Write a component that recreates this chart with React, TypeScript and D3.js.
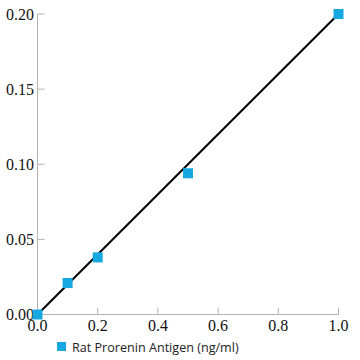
import React from "react";
import * as d3 from "d3";

const concentrations = [0, 0.1, 0.2, 0.5, 1.0];
const absorbance = [0.0, 0.021, 0.038, 0.094, 0.2];
const xTicks = [0, 0.2, 0.4, 0.6, 0.8, 1.0];
const yTicks = [0, 0.05, 0.1, 0.15, 0.2];
const fitLine = [
  [0, 0.0],
  [1.0, 0.2],
];
const seriesName = "Rat Prorenin Antigen (ng/ml)";

export default function App() {
  const W = 360, H = 360;
  const x = d3.scaleLinear().domain([0, 1]).range([37.5, 338.5]);
  const y = d3.scaleLinear().domain([0, 0.2]).range([314.5, 14]);
  const line = d3.line<number[]>().x((d) => x(d[0])).y((d) => y(d[1]));
  const blue = "#17a8e2";
  const axisColor = "#b3b3b3";
  return (
    <svg width={W} height={H} style={{ position: "absolute", left: 0, top: 0, background: "#fff" }}>
      <line x1={x(0)} x2={x(1)} y1={y(0)} y2={y(0)} stroke={axisColor} strokeWidth={1} />
      <line x1={x(0)} x2={x(0)} y1={y(0)} y2={y(0.2)} stroke={axisColor} strokeWidth={1} />
      {xTicks.map((t) => (
        <g key={"x" + t}>
          <line x1={x(t)} x2={x(t)} y1={y(0)} y2={y(0) - 7} stroke={axisColor} />
          <text x={x(t)} y={331} textAnchor="middle" fontFamily="Liberation Serif" fontSize={16} fill="#111">
            {d3.format(".1f")(t)}
          </text>
        </g>
      ))}
      {yTicks.map((t) => (
        <g key={"y" + t}>
          <line x1={x(0)} x2={x(0) + 7} y1={y(t)} y2={y(t)} stroke={axisColor} />
          <text x={34} y={y(t) + 5.5} textAnchor="end" fontFamily="Liberation Serif" fontSize={16} fill="#111">
            {d3.format(".2f")(t)}
          </text>
        </g>
      ))}
      <path d={line(fitLine) || ""} stroke="#000" strokeWidth={2} fill="none" />
      {concentrations.map((c, i) => (
        <rect key={i} x={x(c) - 5} y={y(absorbance[i]) - 5} width={10} height={10} fill={blue} />
      ))}
      <rect x={57} y={342} width={9} height={9} fill={blue} />
      <text x={72} y={352} fontFamily="Open Sans" fontSize={12.6} fill="#222">
        {seriesName}
      </text>
    </svg>
  );
}
